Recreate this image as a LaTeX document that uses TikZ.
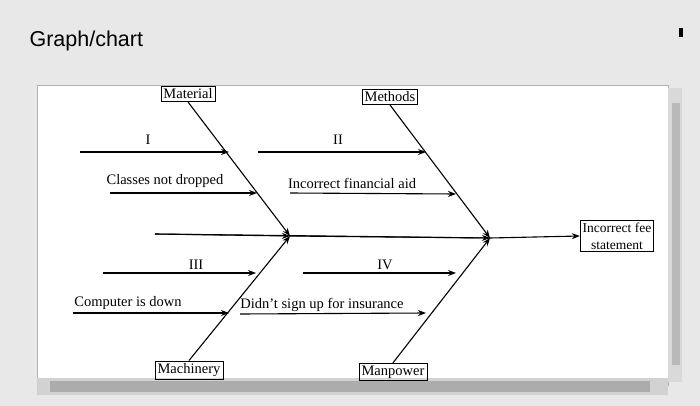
\documentclass[tikz,border=0pt]{standalone}
\usepackage{fontspec}
\setmainfont{Liberation Serif}
\newfontfamily\titlefont{Liberation Sans}
\usetikzlibrary{arrows.meta}
\begin{document}
\begin{tikzpicture}[x=1pt,y=-1pt,
  bone/.style={line width=1.1pt,-{Stealth[length=8pt,width=6pt]}},
  catbox/.style={draw,line width=0.8pt,inner sep=2.5pt,font=\fontsize{14.5}{15}\selectfont},
  lbl/.style={font=\fontsize{14.5}{15}\selectfont,inner sep=0pt}]
\fill[gray!18] (0,0) rectangle (700,406);
\useasboundingbox (0,0) rectangle (700,406);
\node[anchor=west,font=\titlefont\fontsize{21.5}{23}\selectfont] (title) at (26,41) {Graph/chart};
\node[fill=black,minimum width=4pt,minimum height=9pt,inner sep=0pt] (dash) at (681,33) {};
\fill[white] (37,85) rectangle (668,385);
\draw[gray!60] (37,85) rectangle (668,385);
\fill[gray!30] (668,88) rectangle (682,382);
\fill[gray!55] (672,103) rectangle (680,365);
\fill[gray!35] (37,378) rectangle (668,395);
\fill[gray!65] (50,381) rectangle (650,392);
% effect
\node[catbox,align=center,font=\fontsize{13.5}{17}\selectfont] (eff) at (617,236) {Incorrect fee\\statement};
\coordinate (s0) at (155,234);
\coordinate (j1) at (290,236);
\coordinate (j2) at (490,238);
\draw[line width=1.1pt] (s0) -- (j2);
\draw[bone] (s0) -- (j1);
\draw[bone] (j1) -- (j2);
\draw[bone] (j2) -- (eff.west);
% categories
\node[catbox] (mat) at (188,94) {Material};
\node[catbox] (met) at (390,97) {Methods};
\node[catbox] (mac) at (189,370) {Machinery};
\node[catbox] (man) at (393,372) {Manpower};
\draw[bone] (mat.south) -- (j1);
\draw[bone] (met.south) -- (j2);
\draw[bone] (mac.north) -- (j1);
\draw[bone] (man.north) -- (j2);
% causes
\node[lbl] (c1) at (148,140) {I};
\coordinate (a1s) at (80,152); \coordinate (a1e) at (229,152);
\draw[bone] (a1s) -- (a1e);
\node[lbl] (c2) at (338,140) {II};
\coordinate (a2s) at (258,152); \coordinate (a2e) at (426,152);
\draw[bone] (a2s) -- (a2e);
\node[lbl] (c3) at (165,181) {Classes not dropped};
\coordinate (a3s) at (110,193); \coordinate (a3e) at (257,193);
\draw[bone] (a3s) -- (a3e);
\node[lbl] (c4) at (352,183) {Incorrect financial aid};
\coordinate (a4s) at (290,193); \coordinate (a4e) at (456,194);
\draw[bone] (a4s) -- (a4e);
\node[lbl] (c5) at (196,265) {III};
\coordinate (a5s) at (103,273); \coordinate (a5e) at (256,273);
\draw[bone] (a5s) -- (a5e);
\node[lbl] (c6) at (385,265) {IV};
\coordinate (a6s) at (303,273); \coordinate (a6e) at (456,273);
\draw[bone] (a6s) -- (a6e);
\node[lbl] (c7) at (128,303) {Computer is down};
\coordinate (a7s) at (73,313); \coordinate (a7e) at (229,313);
\draw[bone] (a7s) -- (a7e);
\node[lbl] (c8) at (322,305) {Didn't sign up for insurance};
\coordinate (a8s) at (240,314); \coordinate (a8e) at (426,313);
\draw[bone] (a8s) -- (a8e);
\end{tikzpicture}
\end{document}
